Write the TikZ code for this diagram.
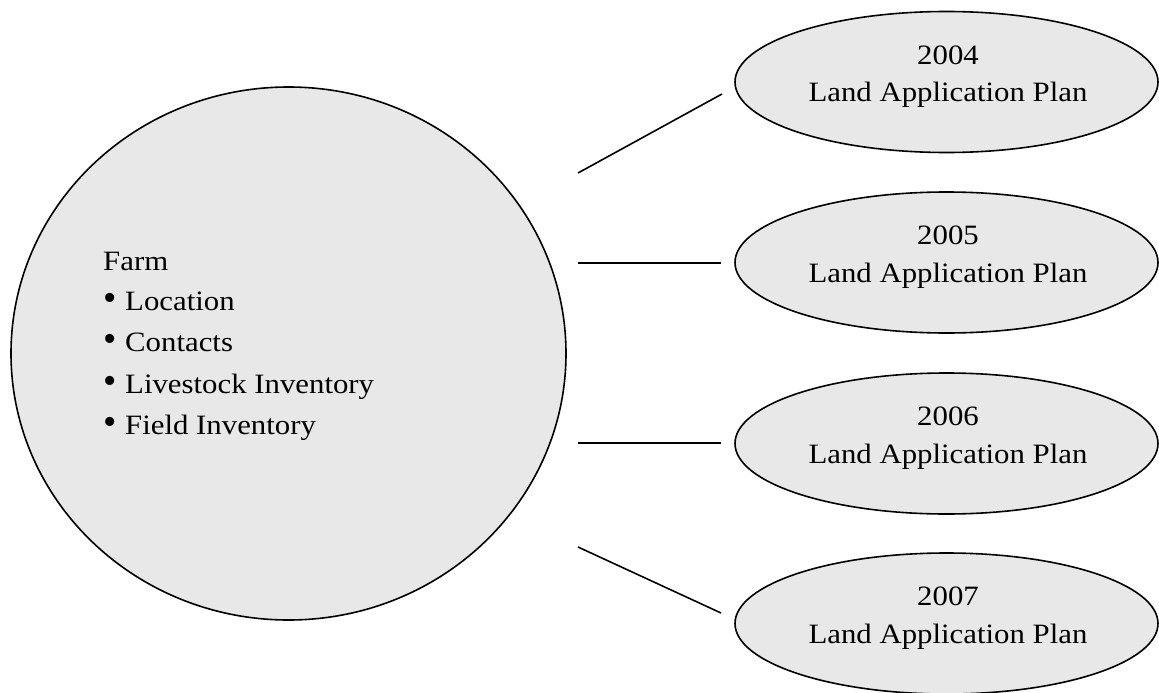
\documentclass[tikz,border=0pt]{standalone}
\usepackage{fontspec}
\setmainfont{Liberation Serif}
\usetikzlibrary{shapes.geometric}
\definecolor{shapefill}{RGB}{232,232,232}
\newcommand{\wtx}[1]{\scalebox{1.1}[1]{#1}}
\newcommand{\bul}{{\fontsize{38}{40}\selectfont\textbullet}}
\begin{document}
\begin{tikzpicture}[x=1pt,y=-1pt,
  outline/.style={draw=black, line width=1.6pt, fill=shapefill},
  plan/.style={outline, ellipse, minimum width=423pt, minimum height=141pt, inner sep=0pt},
  lbl/.style={font=\fontsize{28}{34}\selectfont, inner sep=0pt, anchor=base},
  lbllft/.style={lbl, anchor=base west},
  conn/.style={draw=black, line width=1.6pt}]
\useasboundingbox (0,0) rectangle (1159,693);
% main farm shape
\node[outline, ellipse, minimum width=555pt, minimum height=533pt, inner sep=0pt] (farm) at (288.5,353.5) {};
\node[lbllft] (farmt) at (103,270) {\wtx{Farm}};
\node[lbllft] (b1) at (103,310) {\bul};
\node[lbllft] (i1) at (125,310) {\wtx{Location}};
\node[lbllft] (b2) at (103,351.5) {\bul};
\node[lbllft] (i2) at (125,351.5) {\wtx{Contacts}};
\node[lbllft] (b3) at (103,393) {\bul};
\node[lbllft] (i3) at (125,393) {\wtx{Livestock Inventory}};
\node[lbllft] (b4) at (103,434.5) {\bul};
\node[lbllft] (i4) at (125,434.5) {\wtx{Field Inventory}};
% plans
\node[plan] (p1) at (946.5,82) {};
\node[plan] (p2) at (946.5,262.5) {};
\node[plan] (p3) at (946.5,443.5) {};
\node[plan] (p4) at (946.5,623.5) {};
\node[lbl] (y1) at (948,64) {\wtx{2004}};
\node[lbl] (t1) at (948,101.5) {\wtx{Land Application Plan}};
\node[lbl] (y2) at (948,244.5) {\wtx{2005}};
\node[lbl] (t2) at (948,282) {\wtx{Land Application Plan}};
\node[lbl] (y3) at (948,425.5) {\wtx{2006}};
\node[lbl] (t3) at (948,463) {\wtx{Land Application Plan}};
\node[lbl] (y4) at (948,605.5) {\wtx{2007}};
\node[lbl] (t4) at (948,643) {\wtx{Land Application Plan}};
% connectors
\coordinate (c1a) at (578,173);
\coordinate (c1b) at (722,94);
\coordinate (c2a) at (578,263);
\coordinate (c2b) at (721,263);
\coordinate (c3a) at (578,443);
\coordinate (c3b) at (721,443);
\coordinate (c4a) at (578,547);
\coordinate (c4b) at (721,613);
\draw[conn] (c1a) -- (c1b);
\draw[conn] (c2a) -- (c2b);
\draw[conn] (c3a) -- (c3b);
\draw[conn] (c4a) -- (c4b);
\end{tikzpicture}
\end{document}
